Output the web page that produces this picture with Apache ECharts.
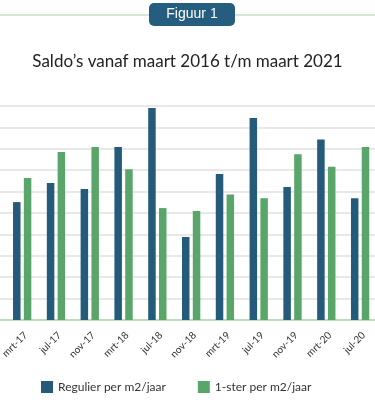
<!DOCTYPE html>
<html>
<head>
<meta charset="utf-8">
<script src="https://cdn.jsdelivr.net/npm/echarts@6/dist/echarts.min.js"></script>
<style>
  html, body { margin: 0; padding: 0; background: #fff; }
  #chart { width: 375px; height: 405px; }
</style>
</head>
<body>
<div id="chart"></div>
<script>
// first category sits just off the left edge of the view (scrolled), so no values
const categories = ["nov-16", "mrt-17", "jul-17", "nov-17", "mrt-18", "jul-18", "nov-18",
  "mrt-19", "jul-19", "nov-19", "mrt-20", "jul-20"];
const regulier = [null, 5.51, 6.4, 6.12, 8.08, 9.91, 3.88, 6.82, 9.44, 6.22, 8.44, 5.69];
const eenSter = [null, 6.63, 7.85, 8.08, 7.05, 5.23, 5.09, 5.86, 5.69, 7.74, 7.16, 8.08];
const seriesNames = ["Regulier per m2/jaar", "1-ster per m2/jaar"];

const chart = echarts.init(document.getElementById("chart"));

chart.setOption({
  animation: false,
  textStyle: { fontFamily: "Lato, 'Open Sans', sans-serif" },
  title: {
    text: "Saldo\u2019s vanaf maart 2016 t/m maart 2021",
    left: "center",
    top: 53,
    padding: 0,
    textStyle: { fontSize: 17, fontWeight: "normal", color: "#222" },
  },
  graphic: [
    {
      type: "line",
      shape: { x1: 0, y1: 15, x2: 375, y2: 15 },
      style: { stroke: "#c6e1c6", lineWidth: 1.5 },
    },
    {
      type: "rect",
      shape: { x: 149, y: 3, width: 86, height: 23, r: 5 },
      style: { fill: "#255d7e" },
    },
    {
      type: "text",
      x: 192,
      y: 14.5,
      style: {
        text: "Figuur 1",
        fill: "#fff",
        fontSize: 14,
        fontFamily: "'Liberation Sans', Arial, sans-serif",
        align: "center",
        verticalAlign: "middle",
      },
    },
  ],
  legend: {
    left: 41,
    top: 381,
    padding: 0,
    icon: "rect",
    itemWidth: 12,
    itemHeight: 12,
    itemGap: 32,
    textStyle: { fontSize: 12, color: "#333" },
    data: seriesNames,
  },
  grid: {
    left: -28.5,
    right: -2,
    top: 106,
    bottom: 85,
    containLabel: false,
    outerBoundsMode: "none",
  },
  xAxis: {
    type: "category",
    data: categories,
    axisLine: { lineStyle: { color: "#b9dcb9", width: 2 } },
    axisTick: { show: false },
    axisLabel: {
      rotate: 45,
      fontSize: 10,
      color: "#333",
      margin: 10,
      interval: 0,
      verticalAlign: "top",
    },
  },
  yAxis: {
    type: "value",
    min: 0,
    max: 10,
    interval: 1,
    axisLabel: { show: false },
    axisLine: { show: false },
    splitLine: { lineStyle: { color: "#e0e0e0", width: 1.5 } },
  },
  series: [
    {
      name: seriesNames[0],
      type: "bar",
      data: regulier,
      barWidth: 7.5,
      barGap: "44%",
      itemStyle: { color: "#245a7a" },
    },
    {
      name: seriesNames[1],
      type: "bar",
      data: eenSter,
      barWidth: 7.5,
      itemStyle: { color: "#5aa66a" },
    },
  ],
});
</script>
</body>
</html>
